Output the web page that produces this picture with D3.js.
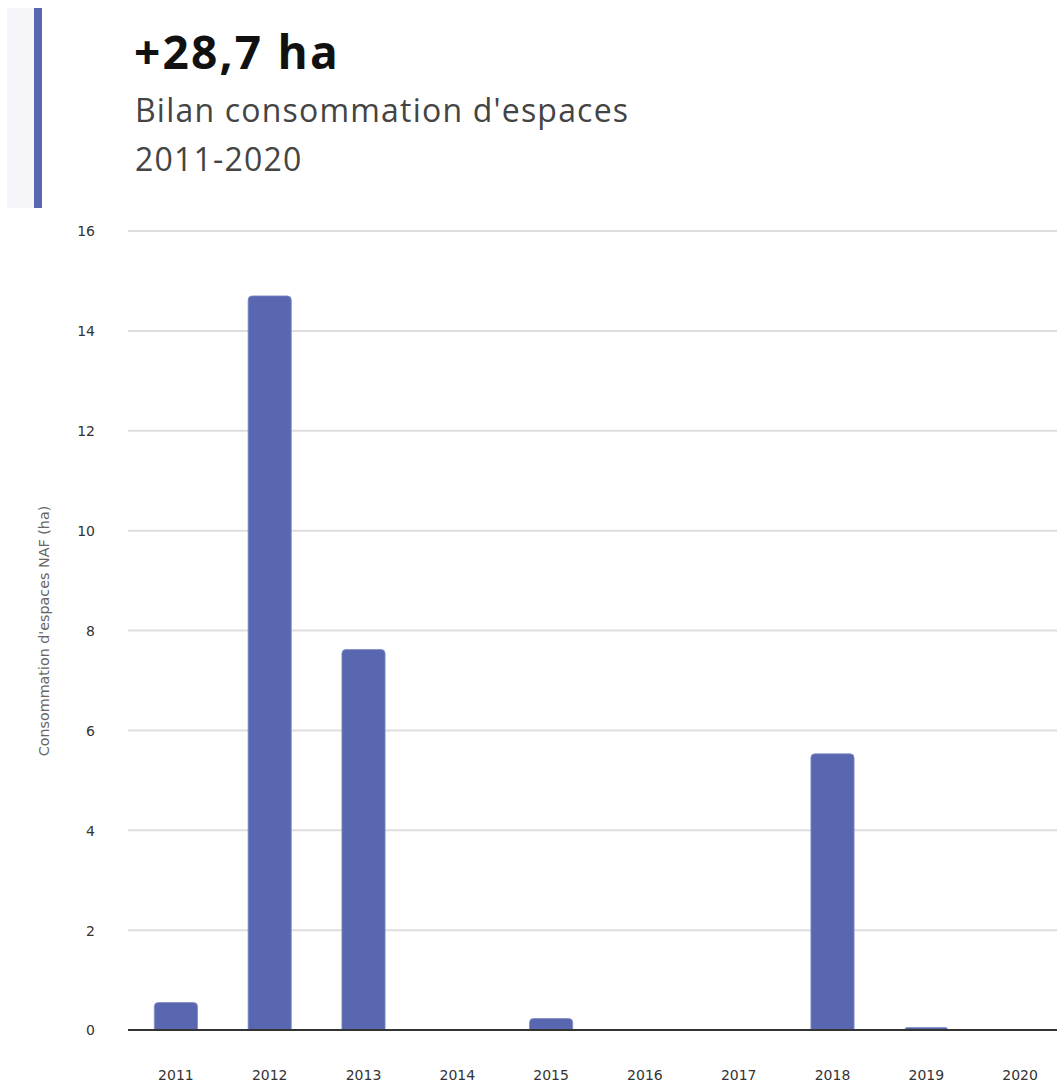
<!DOCTYPE html>
<html>
<head>
<meta charset="utf-8">
<script src="https://cdn.jsdelivr.net/npm/d3@7"></script>
<style>
  html, body { margin: 0; padding: 0; background: #fff; }
  svg { display: block; }
</style>
</head>
<body>
<svg id="chart" width="1057" height="1083"></svg>
<script>
// Consommation d'espaces NAF par année (ha)
const years = ["2011", "2012", "2013", "2014", "2015", "2016", "2017", "2018", "2019", "2020"];
const values = [0.55, 14.7, 7.62, 0, 0.23, 0, 0, 5.53, 0.05, 0];
const yTicks = [0, 2, 4, 6, 8, 10, 12, 14, 16];
const headline = "+28,7 ha";
const subtitleLines = ["Bilan consommation d'espaces", "2011-2020"];
const yTitle = "Consommation d'espaces NAF (ha)";

const svg = d3.select("#chart");
const barColor = "#5867af";

// Carte de synthèse en tête
svg.append("rect").attr("x", 7).attr("y", 8).attr("width", 28).attr("height", 200).attr("fill", "#f5f5fa");
svg.append("rect").attr("x", 34).attr("y", 8).attr("width", 8).attr("height", 200).attr("fill", barColor);
svg.append("text").attr("x", 134).attr("y", 69)
  .attr("font-family", "'Open Sans', sans-serif").attr("font-weight", 700)
  .attr("font-size", 46).attr("letter-spacing", 2.2).attr("fill", "#111").text(headline);
subtitleLines.forEach((t, i) => {
  svg.append("text").attr("x", 135).attr("y", 122 + i * 49)
    .attr("font-family", "'Open Sans', sans-serif").attr("font-size", 32)
    .attr("letter-spacing", 1.2).attr("fill", "#444").text(t);
});

// Zone du graphique
const x = d3.scaleBand().domain(years).range([129, 1067]).paddingInner(0.54).paddingOuter(0.27);
const y = d3.scaleLinear().domain([0, 16]).range([1030, 231]);

// Quadrillage horizontal
svg.append("g").selectAll("line").data(yTicks.filter(d => d > 0)).join("line")
  .attr("x1", 128).attr("x2", 1057)
  .attr("y1", d => y(d)).attr("y2", d => y(d))
  .attr("stroke", "#dedede").attr("stroke-width", 2);

// Étiquettes de l'axe Y
const yAxis = d3.axisLeft(y).tickValues(yTicks).tickSize(0).tickPadding(0).tickFormat(d3.format("d"));
const gy = svg.append("g").attr("transform", "translate(95,0)").call(yAxis);
gy.select(".domain").remove();
gy.selectAll("text").attr("font-family", "'DejaVu Sans', sans-serif").attr("font-size", 14).attr("fill", "#333").attr("dy", "0.35em");

// Barres aux coins supérieurs arrondis
const r = 4;
svg.append("g").selectAll("path").data(years.map((yr, i) => ({ yr, v: values[i] })).filter(d => d.v > 0)).join("path")
  .attr("d", d => {
    const x0 = x(d.yr), w = x.bandwidth(), top = y(d.v), bot = y(0);
    const rr = Math.min(r, (bot - top));
    return `M${x0},${bot}V${top + rr}Q${x0},${top} ${x0 + rr},${top}H${x0 + w - rr}Q${x0 + w},${top} ${x0 + w},${top + rr}V${bot}Z`;
  })
  .attr("fill", barColor).attr("stroke", "#7f8cc8").attr("stroke-width", 0.8);

// Ligne de base
svg.append("line").attr("x1", 128).attr("x2", 1057).attr("y1", y(0)).attr("y2", y(0))
  .attr("stroke", "#333").attr("stroke-width", 2);

// Axe X
const xAxis = d3.axisBottom(x).tickSize(0).tickPadding(0);
const gx = svg.append("g").attr("transform", "translate(0,1080)").call(xAxis);
gx.select(".domain").remove();
gx.selectAll("text").attr("font-family", "'DejaVu Sans', sans-serif").attr("font-size", 14).attr("fill", "#333").attr("y", 0).attr("dy", 0);

// Titre de l'axe Y
svg.append("text").attr("transform", "translate(49,631) rotate(-90)")
  .attr("text-anchor", "middle").attr("font-family", "'DejaVu Sans', sans-serif")
  .attr("font-size", 14.3).attr("fill", "#666").text(yTitle);
</script>
</body>
</html>
